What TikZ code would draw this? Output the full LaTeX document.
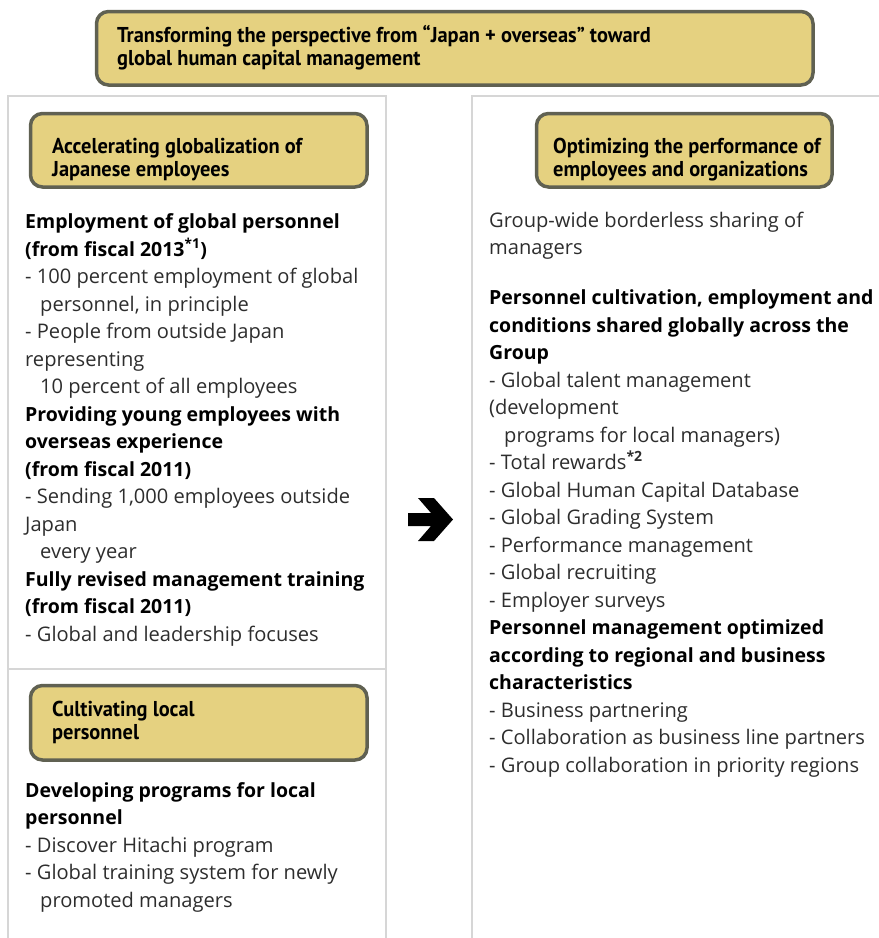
\documentclass[tikz,border=0pt]{standalone}
\usepackage{fontspec}
\setmainfont{Open Sans}
\newfontfamily\boxfont[FakeStretch=0.95]{PT Sans}
\usetikzlibrary{positioning}

\definecolor{boxgold}{RGB}{229,209,128}
\definecolor{boxedge}{RGB}{96,97,82}
\definecolor{panelgray}{RGB}{214,214,214}
\definecolor{bodygray}{RGB}{45,45,45}

\newcommand{\headln}[1]{{\color{black}\bfseries\fontsize{19.5}{27.5}\selectfont #1}}
\newcommand{\ind}{\hspace*{15pt}}

\tikzset{
  titlebox/.style={draw=boxedge, fill=boxgold, line width=3.5pt, rounded corners=12pt,
    inner sep=0pt, anchor=north west},
  titletext/.style={anchor=base west, inner sep=0pt, align=left,
    font=\boxfont\bfseries\fontsize{21.5}{23}\selectfont},
  bodytext/.style={anchor=base west, inner sep=0pt, align=left, text=bodygray,
    font=\fontsize{20.1}{27.5}\selectfont},
  panel/.style={draw=panelgray, line width=1.5pt},
}

\begin{document}
\begin{tikzpicture}[x=1pt, y=-1pt]
  \useasboundingbox (0,0) rectangle (879,938);

  % panels
  \draw[panel] (8,938) -- (8,96) -- (386,96) -- (386,938);
  \draw[panel] (8,669) -- (386,669);
  \draw[panel] (472,938) -- (472,96) -- (879,96);

  % top heading (text placed at its last baseline)
  \node[titlebox, minimum width=716.5, minimum height=73.5] (topbox) at (94.75,9.75) {};
  \node[titletext] (toptxt) at (117,65)
    {Transforming the perspective from “Japan + overseas” toward\\global human capital management};

  % left heading boxes
  \node[titlebox, minimum width=336.5, minimum height=73.5] (accbox) at (28.75,111.75) {};
  \node[titletext] (acctxt) at (52,176) {Accelerating globalization of\\Japanese employees};
  \node[titlebox, minimum width=336.5, minimum height=74.5] (locbox) at (28.75,683.75) {};
  \node[titletext] (loctxt) at (52,739) {Cultivating local\\personnel};

  % right heading box
  \node[titlebox, minimum width=295.5, minimum height=73.5] (optbox) at (534.75,111.75) {};
  \node[titletext] (opttxt) at (553,176) {Optimizing the performance of\\employees and organizations};

  % left texts
  \node[bodytext] (acclist) at (25,641) {%
    \headln{Employment of global personnel}\\
    \headln{(from fiscal 2013\textsuperscript{*1})}\\
    - 100 percent employment of global\\
    \ind personnel, in principle\\
    - People from outside Japan\\
    representing\\
    \ind 10 percent of all employees\\
    \headln{Providing young employees with}\\
    \headln{overseas experience}\\
    \headln{(from fiscal 2011)}\\
    - Sending 1,000 employees outside\\
    Japan\\
    \ind every year\\
    \headln{Fully revised management training}\\
    \headln{(from fiscal 2011)}\\
    - Global and leadership focuses};

  \node[bodytext] (loclist) at (25,907) {%
    \headln{Developing programs for local}\\
    \headln{personnel}\\
    - Discover Hitachi program\\
    - Global training system for newly\\
    \ind promoted managers};

  % right texts
  \node[bodytext] (optlist) at (489,772) {%
    Group-wide borderless sharing of\\
    managers\\[22.5pt]
    \headln{Personnel cultivation, employment and}\\
    \headln{conditions shared globally across the}\\
    \headln{Group}\\
    - Global talent management\\
    (development\\
    \ind programs for local managers)\\
    - Total rewards\textsuperscript{\bfseries *2}\\
    - Global Human Capital Database\\
    - Global Grading System\\
    - Performance management\\
    - Global recruiting\\
    - Employer surveys\\
    \headln{Personnel management optimized}\\
    \headln{according to regional and business}\\
    \headln{characteristics}\\
    - Business partnering\\
    - Collaboration as business line partners\\
    - Group collaboration in priority regions};

  % arrow between panels
  \fill (408,513) -- (431,513) -- (418,498) -- (434,498) -- (453,519.5)
    -- (434,541) -- (418,541) -- (431,526) -- (408,526) -- cycle;
\end{tikzpicture}
\end{document}
